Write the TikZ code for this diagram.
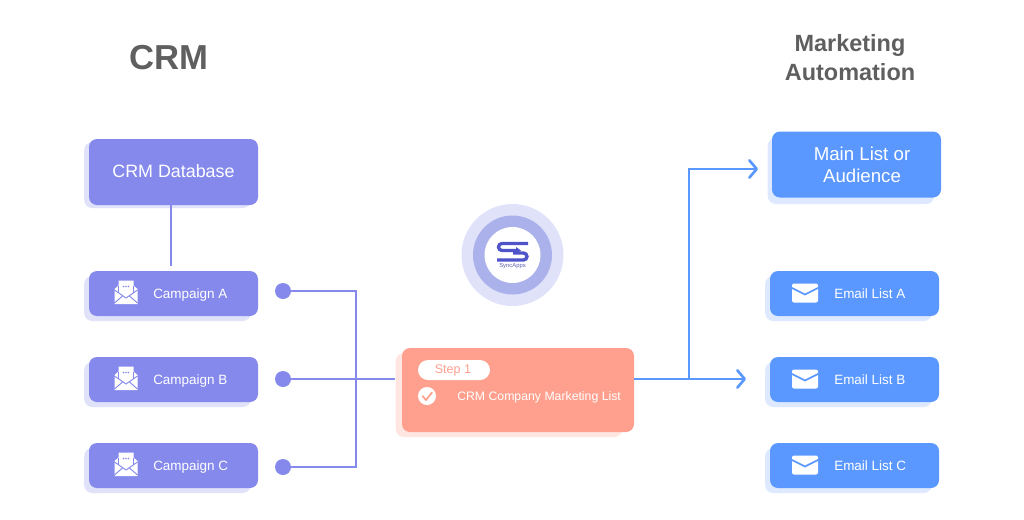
\documentclass[tikz,border=0pt]{standalone}
\usepackage{fontspec}
\setmainfont{Liberation Sans}
\usetikzlibrary{arrows.meta}
\definecolor{campcol}{HTML}{8589EC}
\definecolor{campshade}{HTML}{E0E2F9}
\definecolor{listcol}{HTML}{5A98FF}
\definecolor{listshade}{HTML}{DEE9FF}
\definecolor{stepcol}{HTML}{FFA08E}
\definecolor{stepshade}{HTML}{FFE6E1}
\definecolor{titlecol}{HTML}{5F5F5F}
\definecolor{ringcol}{HTML}{ABB1EA}
\definecolor{logocol}{HTML}{4F54C9}
\tikzset{
    box/.style={rounded corners=6pt,inner sep=0pt,minimum width=126.75pt,minimum height=33.75pt},
    campbox/.style={box,fill=campcol},
    campshadow/.style={box,fill=campshade,minimum width=125pt},
    listbox/.style={box,fill=listcol},
    listshadow/.style={box,fill=listshade,minimum width=125pt},
    boxtext/.style={text=white,inner sep=0pt,anchor=west,font=\fontsize{10.1}{12}\selectfont},
    bigtext/.style={text=white,inner sep=0pt,align=center,font=\fontsize{13.4}{16.5}\selectfont},
    titletext/.style={text=titlecol,inner sep=0pt,align=center,font=\bfseries},
    dot/.style={circle,fill=campcol,inner sep=0pt,minimum size=12pt},
    campline/.style={draw=campcol,line width=2pt},
    listline/.style={draw=listcol,line width=2pt,-{Straight Barb[length=5.5pt,width=13pt,line width=2pt,round]}},
    pics/openmail/.style={code={
        \fill[white] (-7.5,-12) -- (7.5,-12) -- (7.5,-7) -- (11.5,-3.5) -- (11.5,11.5) -- (-11.5,11.5) -- (-11.5,-3.5) -- (-7.5,-7) -- cycle;
        \draw[campcol,line width=0.7pt] (-11.5,-2.5) -- (0,5.5) -- (11.5,-2.5);
        \draw[campcol,line width=0.7pt] (-11.5,10.5) -- (-3.5,3.5);
        \draw[campcol,line width=0.7pt] (11.5,10.5) -- (3.5,3.5);
        \draw[campcol,line width=0.6pt] (-7.5,-7) -- (-7.5,0) (7.5,-7) -- (7.5,0);
        \fill[campcol] (-2.5,-6) circle (0.8) (0,-6) circle (0.8) (2.5,-6) circle (0.8);
    }},
    pics/closedmail/.style={code={
        \fill[white,rounded corners=1.5pt] (-13,-9.5) rectangle (13,9.5);
        \draw[listcol,line width=1.2pt] (-14,-5.5) -- (0,1.5) -- (14,-5.5);
    }}
}
\begin{document}
\begin{tikzpicture}[x=0.75pt,y=-0.75pt]
        \useasboundingbox (0,0) rectangle (1024,519);
        \node[titletext,font=\bfseries\fontsize{26}{30}\selectfont] (crmtitle) at (168.5,58) {CRM};
        \node[titletext,font=\bfseries\fontsize{17.6}{21.7}\selectfont] (mautotitle) at (850,57.5) {Marketing\\Automation};

        \node[campshadow,minimum height=49.5pt] (dbshadow) at (167.5,175) {};
        \node[campbox,minimum height=49.5pt] (dbbox) at (173.5,172) {};
        \node[bigtext] (dbtext) at (173.5,171.5) {CRM Database};
        \node[campshadow] (shadowA) at (167.5,298.5) {};
        \node[campbox] (campA) at (173.5,293.5) {};
        \pic at (126,292.5) {openmail};
        \node[boxtext] (textA) at (153,295.3) {Campaign A};
        \node[campshadow] (shadowB) at (167.5,384.5) {};
        \node[campbox] (campB) at (173.5,379.5) {};
        \pic at (126,378.5) {openmail};
        \node[boxtext] (textB) at (153,381.3) {Campaign B};
        \node[campshadow] (shadowC) at (167.5,470.5) {};
        \node[campbox] (campC) at (173.5,465.5) {};
        \pic at (126,464.5) {openmail};
        \node[boxtext] (textC) at (153,467.3) {Campaign C};

        \coordinate (dbend) at (171,266);
        \draw[campline] (dbend |- dbbox.south) -- (dbend);

        \node[dot] (dotA) at (283,291) {};
        \node[dot] (dotB) at (283,379) {};
        \node[dot] (dotC) at (283,467) {};
        \coordinate (railtop) at (356,291);
        \coordinate (railbot) at (356,467);
        \draw[campline] (dotA) -- (railtop) -- (railbot) -- (dotC);

        \node[box,fill=stepshade,minimum width=170pt,minimum height=63pt] (stepshadow) at (509,395) {};
        \node[box,fill=stepcol,minimum width=174pt,minimum height=63pt] (stepbox) at (518,390) {};
        \draw[campline] (dotB) -- (dotB -| stepshadow.west);
        \node[fill=white,rounded corners=7.5pt,inner sep=0pt,minimum width=54pt,minimum height=15pt] (steppill) at (454,370) {};
        \node[text=stepcol,inner sep=0pt,font=\fontsize{9.4}{11}\selectfont] (steptext) at (453,370.5) {Step 1};
        \node[circle,fill=white,inner sep=0pt,minimum size=13.5pt] (stepcheck) at (427,396) {};
        \draw[stepcol,line width=1.3pt,line cap=round,line join=round] (422.5,396) -- (426,400) -- (432,392.5);
        \node[boxtext,font=\fontsize{9.2}{11}\selectfont] (stepinfo) at (457,397.8) {CRM Company Marketing List};

        \fill[campshade] (512.5,255) circle (51);
        \fill[ringcol] (512.5,255) circle (39.5);
        \fill[white] (512.5,255) circle (28);
        \draw[logocol,line width=2.5pt] (528,243.5) -- (502,243.5) arc[start angle=-90,end angle=-270,radius=3.5] -- (518,250.5);
        \fill[logocol] (521,250.5) -- (516,247) -- (516,254) -- cycle;
        \draw[logocol,line width=2.5pt] (513,253) -- (523.5,253) arc[start angle=-90,end angle=90,radius=3.5] -- (497,260);
        \node[text=logocol!70!gray,inner sep=0pt,font=\fontsize{4.4}{5}\selectfont] (logotext) at (512.5,266) {SyncApps};

        \node[listshadow,minimum height=49.5pt] (mainshadow) at (851,171) {};
        \node[listbox,minimum height=49.5pt] (mainbox) at (856.5,164.5) {};
        \node[bigtext,font=\fontsize{14}{16.5}\selectfont] (maintext) at (862,165) {Main List or\\Audience};
        \node[listshadow] (shadowD) at (848.5,298.5) {};
        \node[listbox] (listA) at (854.5,293.5) {};
        \pic at (805,293) {closedmail};
        \node[boxtext] (textD) at (834,294) {Email List A};
        \node[listshadow] (shadowE) at (848.5,384.5) {};
        \node[listbox] (listB) at (854.5,379.5) {};
        \pic at (805,379) {closedmail};
        \node[boxtext] (textE) at (834,380) {Email List B};
        \node[listshadow] (shadowF) at (848.5,470.5) {};
        \node[listbox] (listC) at (854.5,465.5) {};
        \pic at (805,465) {closedmail};
        \node[boxtext] (textF) at (834,466) {Email List C};

        \coordinate (branch) at (689,379);
        \coordinate (corner) at (689,169);
        \coordinate (maintip) at (758,169);
        \coordinate (listtip) at (746,379);
        \draw[listline] (stepbox.east |- branch) -- (listtip);
        \draw[listline] (branch) -- (corner) -- (maintip);
    \end{tikzpicture}
\end{document}
